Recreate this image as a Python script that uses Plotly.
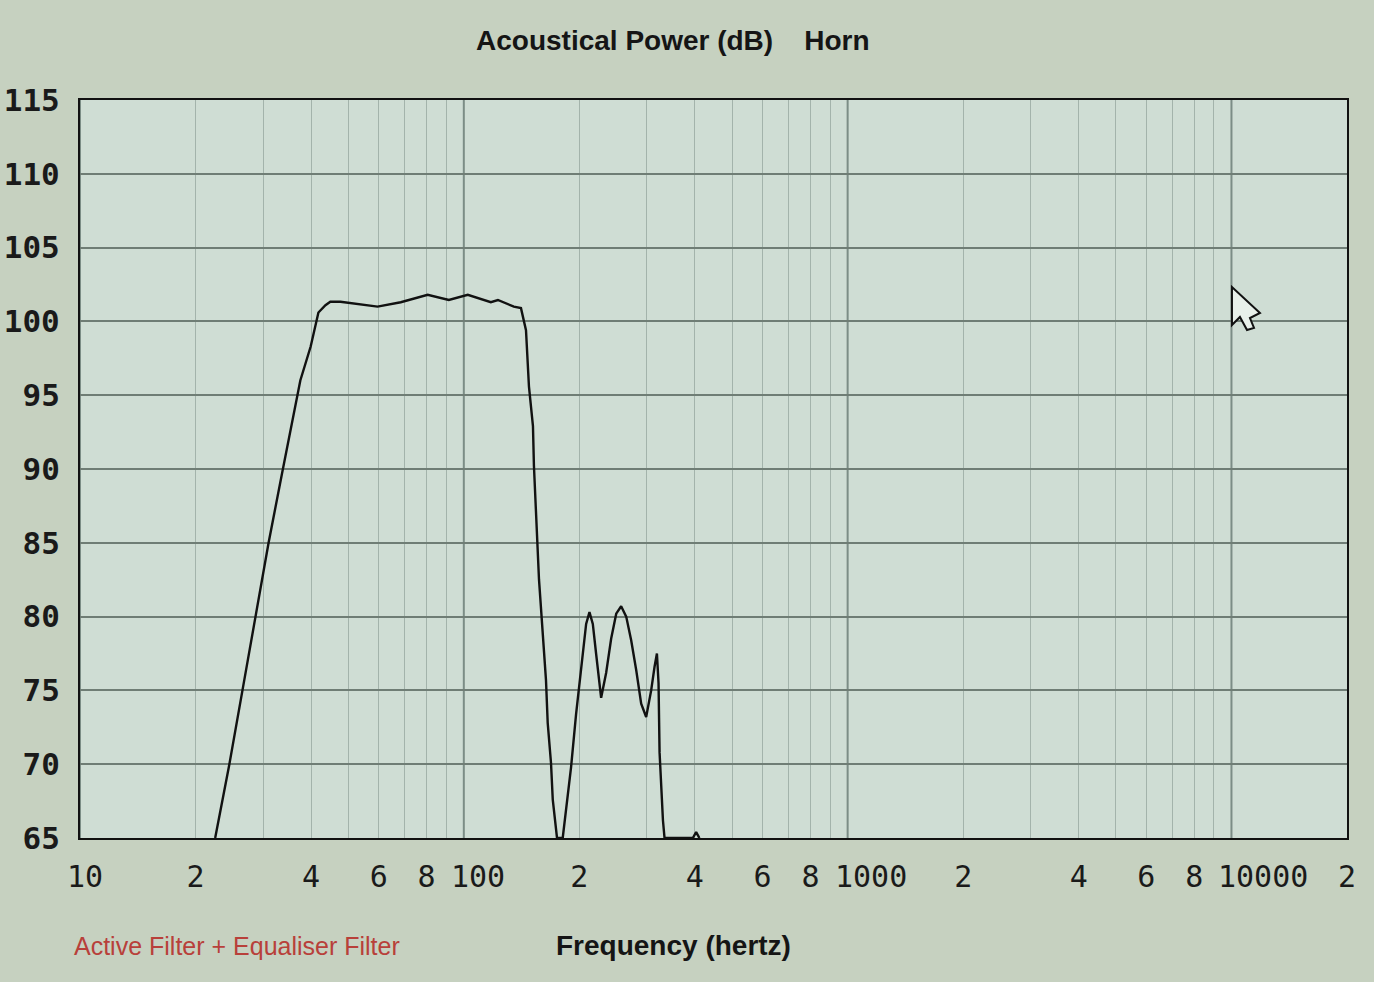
import math
import plotly.graph_objects as go

# ---- data ----
freq_hz = [22.5, 24.5, 26.5, 28.6, 31.0, 33.6, 36.9, 37.5, 39.9, 41.8, 43.6, 44.9,
           47.7, 52.2, 59.6, 68.5, 80.5, 91.4, 102.4, 117.6, 122.7, 135.0, 140.9,
           145.2, 147.8, 151.4, 152.3, 157.0, 160.5, 163.7, 165.4, 168.7, 170.5, 173.8, 174.9,
           181.0, 190.3, 196.1, 202.1, 208.3, 212.5, 216.8, 221.1, 227.9, 234.9, 242.0,
           249.5, 257.0, 264.9, 272.9, 281.2, 289.8, 298.6, 307.7, 314.0, 318.5, 321.6,
           323.6, 330.2, 333.4, 395.0, 403.0, 411.0]
power_db = [65.0, 70.0, 75.0, 80.0, 85.0, 89.7, 95.0, 96.0, 98.3, 100.6, 101.1, 101.33,
            101.33, 101.2, 101.0, 101.3, 101.8, 101.45, 101.8, 101.3, 101.45, 101.0, 100.9,
            99.4, 95.6, 92.9, 90.2, 82.5, 78.5, 75.7, 72.8, 70.1, 67.6, 65.7, 65.0,
            65.0, 69.8, 73.4, 76.6, 79.5, 80.3, 79.5, 77.5, 74.5, 76.2, 78.5,
            80.2, 80.7, 80.0, 78.4, 76.4, 74.1, 73.2, 75.0, 76.6, 77.5, 75.5,
            70.8, 66.2, 65.0, 65.0, 65.4, 65.0]

decades = [10, 100, 1000, 10000]
decade_labels = ["10", "100", "1000", "10000"]
x_tick_vals = [20, 40, 60, 80, 200, 400, 600, 800, 2000, 4000, 6000, 8000, 20000]
x_tick_text = ["2", "4", "6", "8", "2", "4", "6", "8", "2", "4", "6", "8", "2"]
y_tick_vals = [65, 70, 75, 80, 85, 90, 95, 100, 105, 110, 115]
minor_grid = [m * d for d in decades for m in range(2, 10) if m * d <= 20000]

title_text = "Acoustical Power (dB)\u00a0\u00a0\u00a0\u00a0Horn"
x_title = "Frequency (hertz)"
filter_note = "Active Filter + Equaliser Filter"

W, H = 1374, 982
L, R, T, B = 80, 1347, 100, 838
tick_font = dict(family="DejaVu Sans Mono", size=30, color="#1a1a1a")

fig = go.Figure()
fig.add_trace(go.Scatter(x=freq_hz, y=power_db, mode="lines",
                         line=dict(color="#111111", width=2.4), hoverinfo="skip",
                         showlegend=False))

shapes = []
for d in decades:
    shapes.append(dict(type="line", xref="x", yref="paper", x0=d, x1=d, y0=0, y1=1,
                       line=dict(color="#7c8d86", width=2), layer="below"))

# mouse cursor drawn in paper coordinates
cur_px = [(1232, 287), (1232, 325), (1240, 317), (1247, 330), (1254, 328),
          (1250, 318), (1260, 313)]
def to_paper(p):
    return ((p[0] - L) / (R - L), (B - p[1]) / (B - T))
pts = [to_paper(p) for p in cur_px]
path = "M " + " L ".join(f"{x:.4f},{y:.4f}" for x, y in pts) + " Z"
shapes.append(dict(type="path", xref="paper", yref="paper", path=path,
                   fillcolor="#e8f0ea", line=dict(color="#111111", width=2)))

annotations = [
    dict(text="<b>" + title_text + "</b>", xref="paper", yref="paper",
         x=(673 - L) / (R - L), y=(B - 40) / (B - T), showarrow=False,
         xanchor="center", yanchor="middle",
         font=dict(family="Liberation Sans", size=28, color="#151515")),
    dict(text="<b>" + x_title + "</b>", xref="paper", yref="paper",
         x=(673 - L) / (R - L), y=(B - 946) / (B - T), showarrow=False,
         xanchor="center", yanchor="middle",
         font=dict(family="Liberation Sans", size=28, color="#151515")),
    dict(text=filter_note, xref="paper", yref="paper",
         x=(72 - L) / (R - L), y=(B - 946) / (B - T), showarrow=False,
         xanchor="left", yanchor="middle",
         font=dict(family="Liberation Sans Narrow, Liberation Sans", size=25,
                   color="#b8403a")),
]
# decade labels: left-aligned just before their gridline, as in the reference
for d, lab in zip(decades, decade_labels):
    annotations.append(dict(text=lab, xref="x", yref="paper", x=math.log10(d), y=0,
                            xanchor="left", yanchor="middle", xshift=-15,
                            yshift=-(876 - B), showarrow=False, font=tick_font))

fig.update_layout(
    width=W, height=H,
    margin=dict(l=L, r=W - R, t=T, b=H - B, autoexpand=False),
    paper_bgcolor="#c6d1c0",
    plot_bgcolor="#cfddd4",
    shapes=shapes,
    annotations=annotations,
    showlegend=False,
    xaxis=dict(type="log", range=[1, math.log10(20000)],
               tickmode="array", tickvals=x_tick_vals, ticktext=x_tick_text,
               tickfont=tick_font,
               tickangle=0, automargin=False,
               ticks="", ticklabelstandoff=11,
               showgrid=False,
               minor=dict(tickmode="array", tickvals=minor_grid, showgrid=True,
                          gridcolor="#a3b3ab", gridwidth=1, ticks=""),
               showline=True, linecolor="#111111", linewidth=2, mirror=True,
               zeroline=False),
    yaxis=dict(range=[65, 115], tickmode="array", tickvals=y_tick_vals,
               tickfont=dict(family="DejaVu Sans Mono", size=31, color="#1a1a1a",
                             weight="bold"),
               automargin=False,
               ticks="", ticklabelstandoff=12,
               showgrid=True, gridcolor="#6f7d75", gridwidth=2,
               showline=True, linecolor="#111111", linewidth=2, mirror=True,
               zeroline=False),
)

fig.write_html("out.html", config={"displayModeBar": False},
               post_script="document.body.style.margin='0';document.body.style.overflow='hidden';")
